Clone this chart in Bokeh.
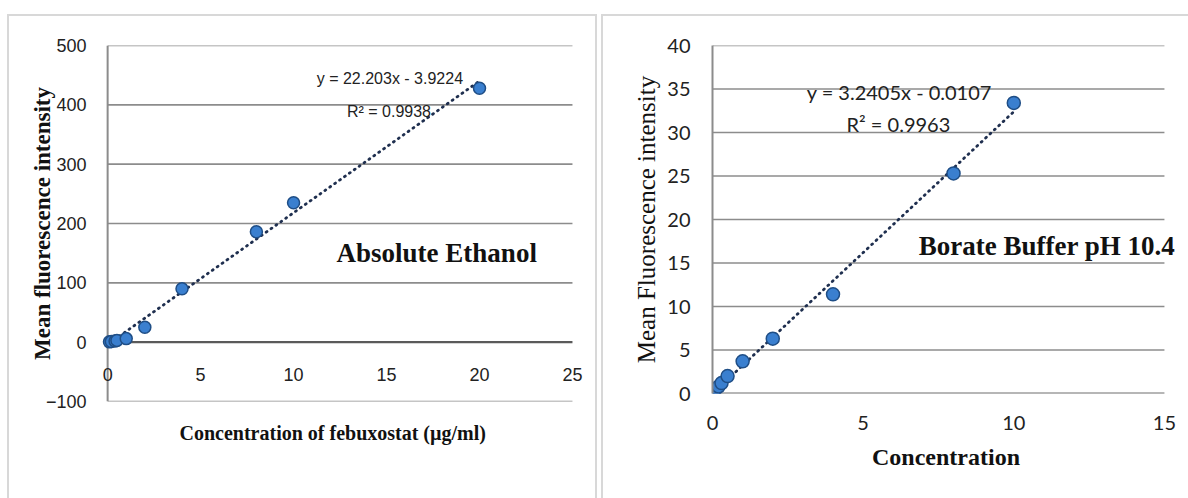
from bokeh.plotting import figure
from bokeh.layouts import row, column
from bokeh.models import Label, FixedTicker, ColumnDataSource, Range1d, Title, Spacer
from bokeh.embed import file_html
from bokeh.resources import INLINE

# ---- Absolute Ethanol ----
eth_conc = [0.1, 0.2, 0.4, 0.5, 1, 2, 4, 8, 10, 20]
eth_fi = [0.5, 1, 2, 3, 6, 25, 90, 186, 235, 428]
eth_slope = 22.203
eth_intercept = -3.9224
eth_eq = "y = 22.203x - 3.9224"
eth_r2 = "R² = 0.9938"
eth_xticks = [0, 5, 10, 15, 20, 25]
eth_yticks = [-100, 0, 100, 200, 300, 400, 500]

# ---- Borate Buffer pH 10.4 ----
bor_conc = [0.05, 0.1, 0.2, 0.3, 0.5, 1, 2, 4, 8, 10]
bor_fi = [0.3, 0.5, 0.8, 1.2, 2.0, 3.7, 6.3, 11.4, 25.3, 33.4]
bor_slope = 3.2405
bor_intercept = -0.0107
bor_eq = "y = 3.2405x - 0.0107"
bor_r2 = "R² = 0.9963"
bor_xticks = [0, 5, 10, 15]
bor_yticks = [0, 5, 10, 15, 20, 25, 30, 35, 40]

SERIF = "Liberation Serif"
NARROW = "Liberation Sans"
SANS = "Lato"
GRID = "#8c8c8c"
FILL = "#3a7fcf"
EDGE = "#1f4e86"
TREND = "#1f2f4f"
FRAME = "2px solid #d8d8d8"


def trend(xs, m, b):
    x0, x1 = min(xs), max(xs)
    return [x0, x1], [m * x0 + b, m * x1 + b]


def grid_segments(p, ticks, xmax, zero_color):
    xs0 = [0] * len(ticks)
    xs1 = [xmax] * len(ticks)
    cols = [zero_color if t == 0 else GRID for t in ticks]
    widths = [2.2 if t == 0 else 1.6 for t in ticks]
    p.segment(x0=xs0, y0=ticks, x1=xs1, y1=ticks, line_color=cols, line_width=widths)


# ================= left =================
p1 = figure(width=590, height=484, x_range=Range1d(-0.33, 25.97), y_range=Range1d(-100, 500),
            output_backend="svg", toolbar_location=None,
            min_border_left=92, min_border_right=9, min_border_top=29, min_border_bottom=99)
p1.frame_align = False
p1.styles = {"border-top": FRAME, "border-left": FRAME, "border-right": FRAME,
             "box-sizing": "border-box"}
p1.outline_line_color = None
p1.xgrid.visible = False
p1.ygrid.visible = False
grid_segments(p1, eth_yticks, eth_xticks[-1], "#5a5a5a")
# vertical axis line at x = 0
p1.segment(x0=[eth_xticks[0]], y0=[eth_yticks[0]], x1=[eth_xticks[0]], y1=[eth_yticks[-1]],
           line_color=GRID, line_width=2)

p1.xaxis.fixed_location = 0
p1.xaxis.ticker = FixedTicker(ticks=eth_xticks)
p1.xaxis.axis_line_color = None
p1.xaxis.major_tick_line_color = None
p1.xaxis.minor_tick_line_color = None
p1.xaxis.major_label_standoff = 20
p1.xaxis.major_label_text_font = NARROW
p1.xaxis.major_label_text_font_size = "18px"
p1.xaxis.major_label_text_color = "#222222"

p1.yaxis.ticker = FixedTicker(ticks=eth_yticks)
p1.yaxis.axis_line_color = None
p1.yaxis.major_tick_line_color = None
p1.yaxis.minor_tick_line_color = None
p1.yaxis.major_label_standoff = 9
p1.yaxis.major_label_text_font = NARROW
p1.yaxis.major_label_text_font_size = "18px"
p1.yaxis.major_label_text_color = "#222222"
p1.yaxis.axis_label = "Mean fluorescence intensity"
p1.yaxis.axis_label_text_font = SERIF
p1.yaxis.axis_label_text_font_style = "bold"
p1.yaxis.axis_label_text_font_size = "23px"
p1.yaxis.axis_label_text_color = "#111111"
p1.yaxis.axis_label_standoff = -12

p1.add_layout(Title(text="Concentration of febuxostat (µg/ml)", align="left", offset=78,
                    standoff=36, text_font=SERIF, text_font_style="bold",
                    text_font_size="20px", text_color="#111111"), "below")

tx, ty = trend(eth_conc, eth_slope, eth_intercept)
p1.line(tx, ty, line_color=TREND, line_width=2.8, line_dash="1 5", line_cap="round")
src1 = ColumnDataSource(data=dict(x=eth_conc, y=eth_fi))
p1.scatter("x", "y", source=src1, size=12, fill_color=FILL, line_color=EDGE, line_width=1.5)

p1.add_layout(Label(x=15.18, y=445, text=eth_eq, text_align="center", text_baseline="middle",
                    text_font=NARROW, text_font_size="16px", text_color="#222222"))
p1.add_layout(Label(x=15.13, y=389, text=eth_r2, text_align="center", text_baseline="middle",
                    text_font=NARROW, text_font_size="16px", text_color="#222222"))
p1.add_layout(Label(x=17.7, y=151, text="Absolute Ethanol", text_align="center", text_baseline="middle",
                    text_font=SERIF, text_font_style="bold", text_font_size="27px", text_color="#111111"))

# ================= right =================
p2 = figure(width=587, height=484, x_range=Range1d(0, 15.5), y_range=Range1d(0, 40),
            output_backend="svg", toolbar_location=None,
            min_border_left=109, min_border_right=11, min_border_top=29, min_border_bottom=107)
p2.frame_align = False
p2.styles = {"border-top": FRAME, "border-left": FRAME, "box-sizing": "border-box"}
p2.outline_line_color = None
p2.xgrid.visible = False
p2.ygrid.visible = False
grid_segments(p2, bor_yticks, bor_xticks[-1], "#6e6e6e")

p2.xaxis.ticker = FixedTicker(ticks=bor_xticks)
p2.xaxis.axis_line_color = None
p2.xaxis.major_tick_line_color = None
p2.xaxis.minor_tick_line_color = None
p2.xaxis.major_label_standoff = 16
p2.xaxis.major_label_text_font = SANS
p2.xaxis.major_label_text_font_size = "20px"
p2.xaxis.major_label_text_color = "#222222"
p2.xaxis.axis_label = "Concentration"
p2.xaxis.axis_label_text_font = SERIF
p2.xaxis.axis_label_text_font_style = "bold"
p2.xaxis.axis_label_text_font_size = "24px"
p2.xaxis.axis_label_text_color = "#111111"
p2.xaxis.axis_label_standoff = 11

p2.yaxis.ticker = FixedTicker(ticks=bor_yticks)
p2.yaxis.axis_line_color = GRID
p2.yaxis.axis_line_width = 2
p2.yaxis.major_tick_line_color = None
p2.yaxis.minor_tick_line_color = None
p2.yaxis.major_label_standoff = 16
p2.yaxis.major_label_text_font = SANS
p2.yaxis.major_label_text_font_size = "20px"
p2.yaxis.major_label_text_color = "#222222"
p2.yaxis.axis_label = "Mean Fluorescence intensity"
p2.yaxis.axis_label_text_font = SERIF
p2.yaxis.axis_label_text_font_style = "normal"
p2.yaxis.axis_label_text_font_size = "25px"
p2.yaxis.axis_label_text_color = "#111111"
p2.yaxis.axis_label_standoff = 4

tx2, ty2 = trend(bor_conc, bor_slope, bor_intercept)
p2.line(tx2, ty2, line_color=TREND, line_width=2.8, line_dash="1 5", line_cap="round")
src2 = ColumnDataSource(data=dict(x=bor_conc, y=bor_fi))
p2.scatter("x", "y", source=src2, size=13, fill_color=FILL, line_color=EDGE, line_width=1.5)

p2.add_layout(Label(x=6.2, y=34.6, text=bor_eq, text_align="center", text_baseline="middle",
                    text_font=SANS, text_font_size="20px", text_color="#222222"))
p2.add_layout(Label(x=6.17, y=31.0, text=bor_r2, text_align="center", text_baseline="middle",
                    text_font=SANS, text_font_size="20px", text_color="#222222"))
p2.add_layout(Label(x=11.1, y=16.95, text="Borate Buffer pH 10.4", text_align="center",
                    text_baseline="middle", text_font=SERIF, text_font_style="bold",
                    text_font_size="27px", text_color="#111111"))

layout = column(Spacer(height=14),
                row(Spacer(width=7), p1, Spacer(width=4), p2, spacing=0),
                spacing=0)
open("out.html", "w").write(file_html(layout, INLINE))
